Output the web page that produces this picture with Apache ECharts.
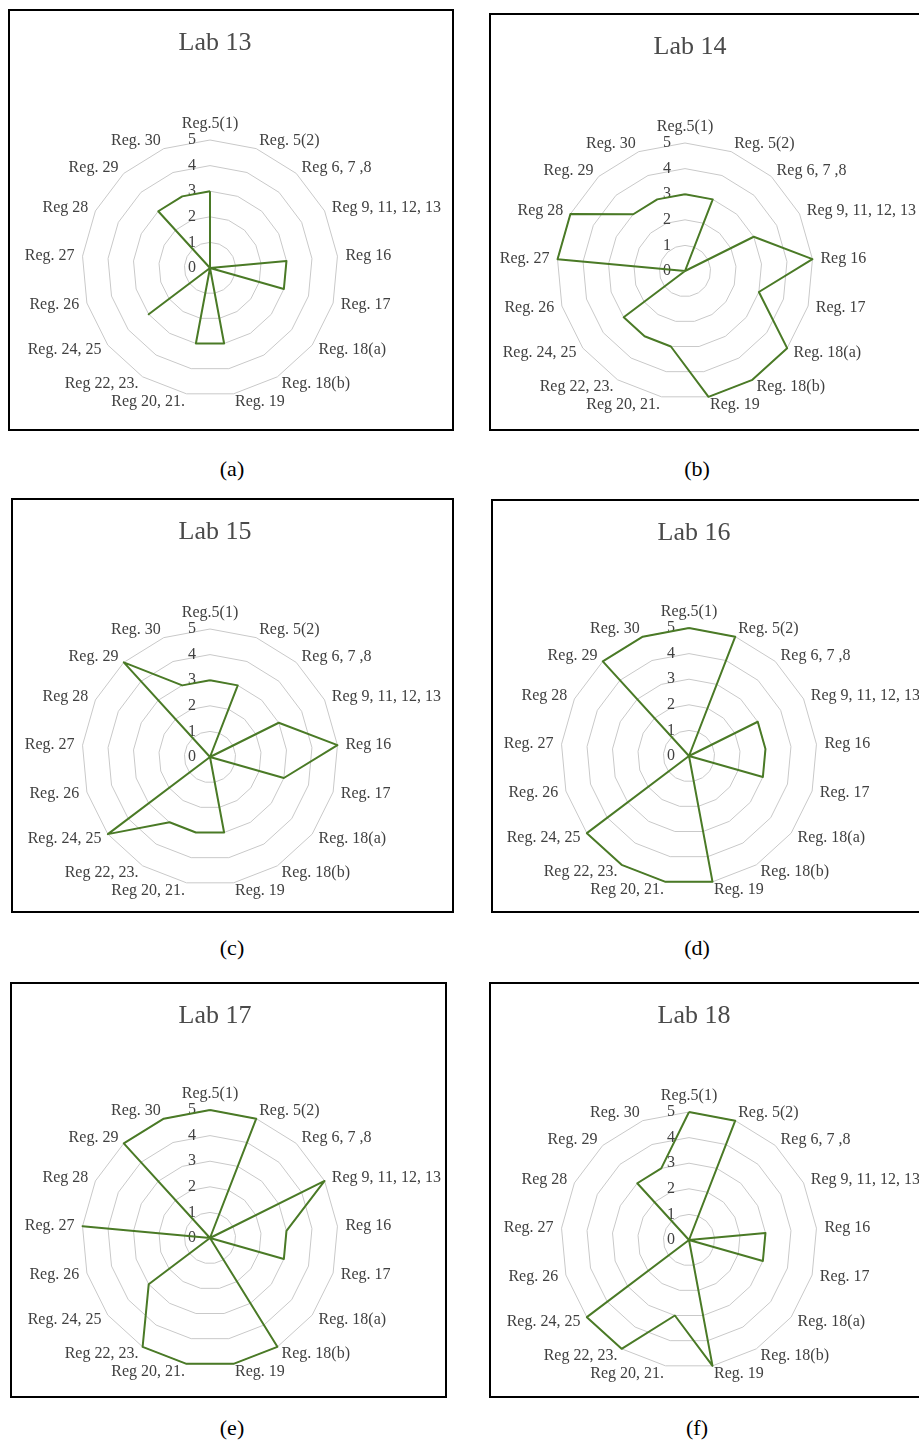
<!DOCTYPE html>
<html>
<head>
<meta charset="utf-8">
<script src="https://cdn.jsdelivr.net/npm/echarts@6/dist/echarts.min.js"></script>
<style>
  html, body { margin: 0; padding: 0; background: #fff; }
  body { position: relative; width: 919px; height: 1450px; overflow: hidden;
         font-family: "Liberation Serif", "Times New Roman", serif; }
  .box { position: absolute; border: 2px solid #000; box-sizing: border-box; background: #fff; }
  .cap { position: absolute; font-size: 22px; color: #000; transform: translate(-50%, -50%); white-space: nowrap; }
</style>
</head>
<body>
<div id="root"></div>
<script>
// Compliance regulations scored per laboratory (0 = none, 5 = full)
const categories = [
  'Reg.5(1)', 'Reg. 5(2)', 'Reg 6, 7 ,8', 'Reg 9, 11, 12, 13', 'Reg 16', 'Reg. 17',
  'Reg. 18(a)', 'Reg. 18(b)', 'Reg. 19', 'Reg 20, 21.', 'Reg 22, 23.', 'Reg. 24, 25',
  'Reg. 26', 'Reg. 27', 'Reg 28', 'Reg. 29', 'Reg. 30'
];
const ringTicks = [0, 1, 2, 3, 4, 5];

const lab13 = [3, 0, 0, 0, 3, 3, 0, 0, 3, 3, 0, 3, 0, 0, 0, 3, 3];
const lab14 = [3, 3, 0, 3, 5, 3, 5, 5, 5, 3, 3, 3, 0, 5, 5, 3, 3];
const lab15 = [3, 3, 0, 3, 5, 3, 0, 0, 3, 3, 3, 5, 0, 0, 0, 5, 3];
const lab16 = [5, 5, 0, 3, 3, 3, 0, 0, 5, 5, 5, 5, 0, 0, 0, 5, 5];
const lab17 = [5, 5, 0, 5, 3, 3, 0, 5, 5, 5, 5, 3, 0, 5, 0, 5, 5];
const lab18 = [5, 5, 0, 0, 3, 3, 0, 0, 5, 3, 5, 5, 0, 0, 0, 3, 3];

const panelTitles = ['Lab 13', 'Lab 14', 'Lab 15', 'Lab 16', 'Lab 17', 'Lab 18'];
const panelCaptions = ['(a)', '(b)', '(c)', '(d)', '(e)', '(f)'];
const panelValues = [lab13, lab14, lab15, lab16, lab17, lab18];

// Frame geometry: box rect, radar centre inside the box, caption position
const layout = [
  { x: 8,   y: 9,   w: 446, h: 422, cx: 202, cy: 259, capX: 232, capY: 469 },
  { x: 489, y: 13,  w: 446, h: 418, cx: 196, cy: 258, capX: 697, capY: 469 },
  { x: 11,  y: 498, w: 443, h: 415, cx: 199, cy: 259, capX: 232, capY: 948 },
  { x: 491, y: 499, w: 446, h: 414, cx: 198, cy: 257, capX: 697, capY: 948 },
  { x: 10,  y: 982, w: 437, h: 416, cx: 200, cy: 256, capX: 232, capY: 1428 },
  { x: 489, y: 982, w: 446, h: 416, cx: 200, cy: 258, capX: 697, capY: 1428 }
];

const FONT = 'Liberation Serif';
const LINE_COLOR = '#4a7a26';
const TEXT_COLOR = '#404040';

// Radar axes run counter-clockwise, so feed categories in reverse after the first
// one to get the clockwise reading order.
const order = [0].concat(categories.map((_, i) => i).slice(1).reverse());

function buildOption(title, values, L) {
  const cx = L.cx - 2, cy = L.cy - 2;
  return {
    animation: false,
    textStyle: { fontFamily: FONT },
    title: {
      text: title,
      left: cx,
      top: 14,
      textAlign: 'center',
      textStyle: { fontFamily: FONT, fontSize: 26, fontWeight: 'normal', color: '#4a4a4a' }
    },
    radar: {
      center: [cx, cy],
      radius: 128,
      startAngle: 90,
      shape: 'polygon',
      splitNumber: ringTicks.length - 1,
      nameGap: 8,
      indicator: order.map((k, j) => {
        const ind = { name: categories[k], min: ringTicks[0], max: ringTicks[ringTicks.length - 1] };
        if (j === 0) {
          ind.axisLabel = {
            show: true, margin: 14, color: TEXT_COLOR, fontFamily: FONT, fontSize: 16
          };
        }
        return ind;
      }),
      axisName: { color: TEXT_COLOR, fontFamily: FONT, fontSize: 16 },
      axisLine: { show: false },
      axisTick: { show: false },
      axisLabel: { show: false },
      splitLine: { lineStyle: { color: '#c9c9c9', width: 1 } },
      splitArea: { show: false }
    },
    series: [{
      type: 'radar',
      symbol: 'none',
      silent: true,
      lineStyle: { color: LINE_COLOR, width: 2 },
      data: [{ value: order.map(k => values[k]), name: title }]
    }]
  };
}

const root = document.getElementById('root');
layout.forEach((L, i) => {
  const box = document.createElement('div');
  box.className = 'box';
  box.style.left = L.x + 'px';
  box.style.top = L.y + 'px';
  box.style.width = L.w + 'px';
  box.style.height = L.h + 'px';
  root.appendChild(box);

  const cap = document.createElement('div');
  cap.className = 'cap';
  cap.style.left = L.capX + 'px';
  cap.style.top = L.capY + 'px';
  cap.textContent = panelCaptions[i];
  root.appendChild(cap);

  const chart = echarts.init(box, null, { renderer: 'canvas' });
  chart.setOption(buildOption(panelTitles[i], panelValues[i], L));
});
</script>
</body>
</html>
